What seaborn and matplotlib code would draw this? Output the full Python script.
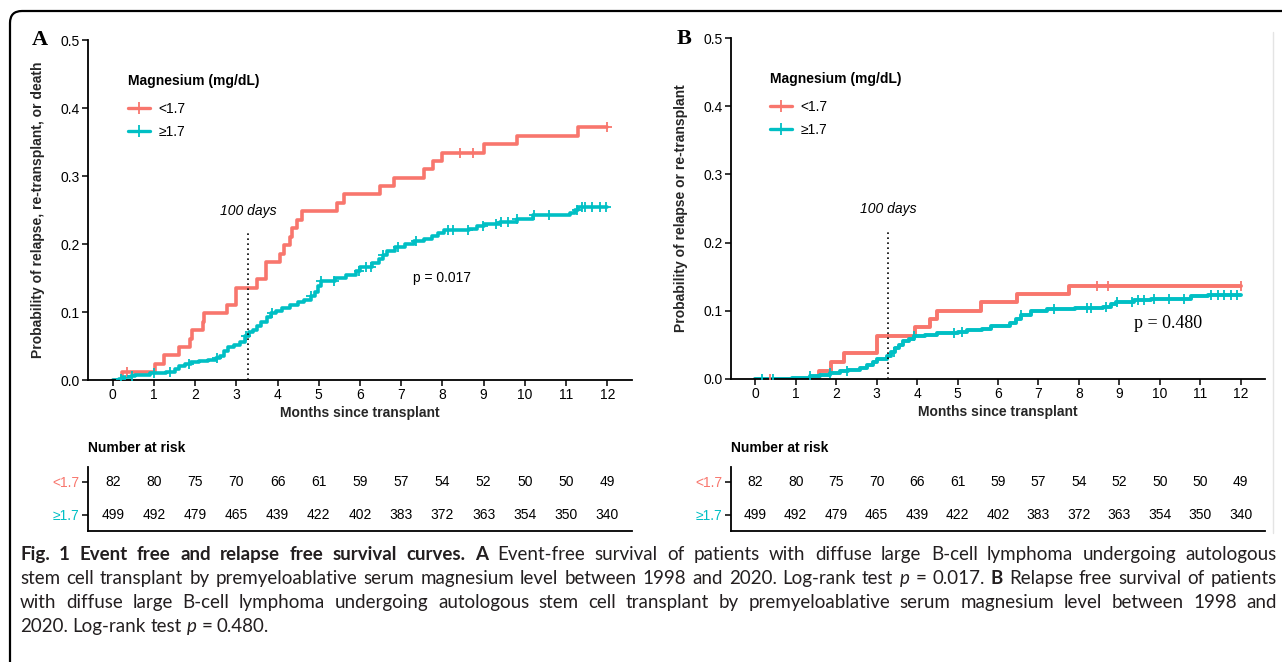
import numpy as np
import pandas as pd
import matplotlib
matplotlib.use("Agg")
import matplotlib.pyplot as plt
import seaborn as sns
from matplotlib.lines import Line2D
from matplotlib.patches import FancyBboxPatch

# ---------------- data ----------------
groups = ["<1.7", "≥1.7"]
months = list(range(13))

# Panel A: relapse, re-transplant or death (cumulative incidence)
a_lo_times = [0.23, 1.02, 1.24, 1.61, 1.88, 1.93, 2.18, 2.22, 2.78, 2.99, 3.5, 3.71, 4.05, 4.15,
              4.30, 4.36, 4.48, 4.6, 5.45, 5.6, 6.49, 6.83, 7.56, 7.76, 7.99, 9.0, 9.82, 11.28]
a_lo_probs = [0.012, 0.024, 0.037, 0.049, 0.061, 0.073, 0.086, 0.099, 0.111, 0.136, 0.149, 0.173,
              0.186, 0.198, 0.211, 0.223, 0.235, 0.248, 0.261, 0.273, 0.285, 0.297, 0.310, 0.322,
              0.334, 0.347, 0.359, 0.372]
a_lo_cens = [0.34, 8.43, 8.73, 12.0]

a_hi_times = [0.15, 0.25, 0.45, 0.55, 0.9, 1.3, 1.5, 1.6, 1.75, 1.9, 2.1, 2.3, 2.5, 2.6, 2.7, 2.8,
              2.95, 3.1, 3.2, 3.3, 3.4, 3.5, 3.6, 3.75, 3.85, 3.95, 4.1, 4.3, 4.5, 4.65, 4.8, 4.9,
              4.97, 5.05, 5.4, 5.65, 5.9, 6.0, 6.3, 6.45, 6.55, 6.65, 6.85, 7.1, 7.3, 7.55, 7.75,
              7.9, 8.05, 8.65, 8.85, 9.0, 9.4, 9.8, 10.2, 11.1, 11.22, 11.3]
a_hi_probs = [0.002, 0.004, 0.006, 0.008, 0.010, 0.012, 0.016, 0.020, 0.024, 0.026, 0.028, 0.030,
              0.033, 0.036, 0.042, 0.048, 0.052, 0.056, 0.064, 0.070, 0.074, 0.080, 0.086, 0.092,
              0.098, 0.102, 0.106, 0.110, 0.114, 0.118, 0.124, 0.130, 0.138, 0.146, 0.150, 0.154,
              0.160, 0.166, 0.172, 0.178, 0.184, 0.190, 0.196, 0.200, 0.204, 0.208, 0.212, 0.216,
              0.220, 0.222, 0.226, 0.230, 0.233, 0.237, 0.242, 0.245, 0.250, 0.255]
a_hi_cens = [0.2, 0.47, 1.0, 1.4, 1.84, 2.52, 3.24, 3.86, 4.8, 5.05, 5.37, 5.98, 6.15, 6.27, 6.55,
             6.93, 7.37, 8.14, 8.26, 8.61, 8.99, 9.3, 9.42, 9.58, 9.82, 10.22, 10.58, 11.27, 11.39,
             11.47, 11.63, 11.83, 11.96]

# Panel B: relapse or re-transplant
b_lo_times = [1.57, 1.87, 2.19, 3.0, 3.96, 4.33, 4.5, 5.58, 6.46, 7.76]
b_lo_probs = [0.012, 0.025, 0.038, 0.063, 0.076, 0.088, 0.100, 0.113, 0.125, 0.137]
b_lo_cens = [0.36, 8.44, 8.72, 12.0]

b_hi_times = [0.9, 1.35, 1.6, 1.85, 2.1, 2.3, 2.6, 2.76, 2.9, 3.0, 3.26, 3.35, 3.45, 3.55, 3.65,
              3.8, 3.92, 4.2, 4.5, 5.0, 5.24, 5.6, 5.82, 6.3, 6.45, 6.56, 6.81, 7.22, 7.9, 8.6,
              8.8, 8.91, 9.36, 9.78, 10.77, 11.18]
b_hi_probs = [0.002, 0.004, 0.006, 0.009, 0.011, 0.013, 0.016, 0.021, 0.025, 0.029, 0.034, 0.039,
              0.045, 0.050, 0.055, 0.059, 0.063, 0.065, 0.067, 0.069, 0.072, 0.074, 0.077, 0.082,
              0.088, 0.094, 0.099, 0.102, 0.104, 0.105, 0.110, 0.113, 0.116, 0.118, 0.121, 0.123]
b_hi_cens = [0.17, 0.45, 1.36, 1.85, 2.26, 3.42, 3.92, 4.91, 5.12, 6.56, 7.39, 8.21, 8.29, 8.66,
             8.95, 9.32, 9.45, 9.61, 9.86, 10.23, 10.6, 11.26, 11.43, 11.59, 11.76, 11.92]

risk_lo = [82, 80, 75, 70, 66, 61, 59, 57, 54, 52, 50, 50, 49]
risk_hi = [499, 492, 479, 465, 439, 422, 402, 383, 372, 363, 354, 350, 340]

p_text_a = "p = 0.017"
p_text_b = "p = 0.480"
ylabel_a = "Probability of relapse, re-transplant, or death"
ylabel_b = "Probability of relapse or re-transplant"
xlabel = "Months since transplant"
legend_title = "Magnesium (mg/dL)"
day100 = 100 / 30.44

# ---------------- style ----------------
RED, TEAL = "#F8766D", "#00BFC4"
palette = {groups[0]: RED, groups[1]: TEAL}
sns.set_theme(style="ticks")
plt.rcParams['font.family'] = ['Liberation Sans', 'DejaVu Sans']
plt.rcParams['axes.edgecolor'] = 'black'
plt.rcParams['xtick.color'] = 'black'
plt.rcParams['ytick.color'] = 'black'
plt.rcParams['text.color'] = 'black'

W, H = 1282, 662
fig = plt.figure(figsize=(W / 100, H / 100), dpi=100)


def add_axes_px(l, t, r, b):
    return fig.add_axes([l / W, 1 - b / H, (r - l) / W, (b - t) / H])


def curve_df(times, probs, grp):
    t = [0.0] + list(times) + [12.0]
    p = [0.0] + list(probs) + [probs[-1]]
    return pd.DataFrame({"time": t, "prob": p, "group": grp})


def step_at(times, probs, x):
    t = np.array([0.0] + list(times))
    p = np.array([0.0] + list(probs))
    idx = np.searchsorted(t, np.asarray(x), side="right") - 1
    return p[idx]


def km_panel(ax, lo, hi, marker, lw, ylabel, ylab_x):
    (lt, lp, lc), (ht, hp, hc) = lo, hi
    df = pd.concat([curve_df(lt, lp, groups[0]), curve_df(ht, hp, groups[1])])
    sns.lineplot(data=df, x="time", y="prob", hue="group", palette=palette,
                 drawstyle="steps-post", linewidth=lw, estimator=None, legend=False, ax=ax)
    for times, probs, cens, col in [(lt, lp, lc, RED), (ht, hp, hc, TEAL)]:
        cdf = pd.DataFrame({"time": cens, "prob": step_at(times, probs, cens)})
        sns.scatterplot(data=cdf, x="time", y="prob", marker=marker, color=col, s=45,
                        linewidth=1.3, ax=ax, zorder=3)
    ax.set_xlim(-0.6, 12.6)
    ax.set_ylim(0, 0.5)
    ax.set_xticks(months)
    ax.set_xticklabels([str(m) for m in months])
    yt = [0.0, 0.1, 0.2, 0.3, 0.4, 0.5]
    ax.set_yticks(yt)
    ax.set_yticklabels([f"{v:.1f}" for v in yt])
    sns.despine(ax=ax)
    for s in ("left", "bottom"):
        ax.spines[s].set_linewidth(1.3)
    ax.tick_params(length=4, width=1.1, labelsize=10, pad=2)
    ax.set_xlabel(xlabel, fontsize=10, fontweight="bold")
    ax.xaxis.set_label_coords(0.5, -0.076)
    ax.set_ylabel(ylabel, fontsize=10, fontweight="bold")
    ax.yaxis.set_label_coords(ylab_x, 0.5)
    # 100 days marker
    ax.plot([day100, day100], [0, 0.22], ls=(0, (1, 2)), color="black", lw=1.2)
    # legend
    handles = [Line2D([0], [0], color=c, lw=2.4, marker=marker, markersize=8, mew=1.3)
               for c in (RED, TEAL)]
    leg = ax.legend(handles, groups, title=legend_title, loc="upper left",
                    bbox_to_anchor=(0.073, 0.901), frameon=False, fontsize=10,
                    title_fontproperties={"weight": "bold", "size": 10},
                    handlelength=1.6, handletextpad=0.6, labelspacing=0.6,
                    borderpad=0, borderaxespad=0, numpoints=1)
    leg._legend_box.align = "left"
    leg._legend_box.sep = 10.5


def risk_panel(ax, title):
    ax.set_xlim(-0.6, 12.6)
    ax.set_ylim(-0.485, 1.45)
    for m, v in zip(months, risk_lo):
        ax.text(m, 1, str(v), ha="center", va="center", fontsize=10)
    for m, v in zip(months, risk_hi):
        ax.text(m, 0, str(v), ha="center", va="center", fontsize=10)
    ax.set_yticks([1, 0])
    ax.set_yticklabels(groups)
    for lab, col in zip(ax.get_yticklabels(), (RED, TEAL)):
        lab.set_color(col)
    ax.set_xticks([])
    sns.despine(ax=ax)
    for s in ("left", "bottom"):
        ax.spines[s].set_linewidth(1.3)
    ax.tick_params(axis="y", length=4, width=1.1, labelsize=10, pad=2)
    ax.set_title(title, loc="left", fontsize=10, fontweight="bold", pad=11)


# ---------------- panel A ----------------
axA = add_axes_px(88, 40, 632, 380)
km_panel(axA, (a_lo_times, a_lo_probs, a_lo_cens), (a_hi_times, a_hi_probs, a_hi_cens),
         "+", 2.6, ylabel_a, -0.079)
axA.text(day100, 0.248, "100 days", ha="center", va="center", fontsize=10, style="italic")
axA.text(8.0, 0.15, p_text_a, ha="center", va="center", fontsize=10)

tA = add_axes_px(88, 467, 632, 531)
risk_panel(tA, "Number at risk")

# ---------------- panel B ----------------
axB = add_axes_px(731, 38, 1265, 379)
km_panel(axB, (b_lo_times, b_lo_probs, b_lo_cens), (b_hi_times, b_hi_probs, b_hi_cens),
         "|", 2.8, ylabel_b, -0.080)
axB.text(day100, 0.25, "100 days", ha="center", va="center", fontsize=10, style="italic")
axB.text(10.2, 0.082, p_text_b, ha="center", va="center", fontsize=13,
         family=["Liberation Serif", "DejaVu Serif"])

tB = add_axes_px(731, 467, 1265, 531)
risk_panel(tB, "Number at risk")

# panel letters
fig.text(40 / W, 1 - 40 / H, "A", ha="center", va="center", fontsize=16, fontweight="bold",
         family=["Liberation Serif", "DejaVu Serif"])
fig.text(684 / W, 1 - 39 / H, "B", ha="center", va="center", fontsize=16, fontweight="bold",
         family=["Liberation Serif", "DejaVu Serif"])

# frame
frame = FancyBboxPatch((0.10, -1.0), 14.0, 6.51 + 1.0, boxstyle="round,pad=0,rounding_size=0.12",
                       transform=fig.dpi_scale_trans, fill=False, edgecolor="black", lw=1.6)
fig.add_artist(frame)
fig.add_artist(Line2D([1273 / W, 1273 / W], [1 - 533 / H, 1 - 32 / H], color="#e4e4e4", lw=1,
                      transform=fig.transFigure))

# ---------------- caption ----------------
def words(s, st="n"):
    return [(w, st) for w in s.split()]

cap_lines = [
    words("Fig. 1 Event free and relapse free survival curves. A", "b")
    + words("Event-free survival of patients with diffuse large B-cell lymphoma undergoing autologous"),
    words("stem cell transplant by premyeloablative serum magnesium level between 1998 and 2020. Log-rank test")
    + words("p", "i") + words("= 0.017.") + words("B", "b")
    + words("Relapse free survival of patients"),
    words("with diffuse large B-cell lymphoma undergoing autologous stem cell transplant by premyeloablative serum magnesium level between 1998 and"),
    words("2020. Log-rank test") + words("p", "i") + words("= 0.480."),
]
cap_baselines = [560, 584, 608, 632]
cap_x0, cap_x1 = 20, 1277
cap_family = ["Lato", "DejaVu Sans"]
CAP_COL = "#231f20"

renderer = fig.canvas.get_renderer()


def make_word(w, st, size):
    kw = dict(fontsize=size, family=cap_family, color=CAP_COL, va="baseline", ha="left")
    if st == "b":
        kw["fontweight"] = "bold"
    if st == "i":
        kw["style"] = "italic"
    return fig.text(0, 0, w, **kw)


def measure(size):
    res = []
    for line in cap_lines:
        objs = [make_word(w, st, size) for w, st in line]
        ws = [o.get_window_extent(renderer).width for o in objs]
        res.append((objs, ws))
    return res

probe = make_word("a a", "n", 10)
probe2 = make_word("aa", "n", 10)
space10 = probe.get_window_extent(renderer).width - probe2.get_window_extent(renderer).width
probe.remove(); probe2.remove()

m10 = measure(10)
target = cap_x1 - cap_x0
sizes = []
for (objs, ws), line in zip(m10[:3], cap_lines[:3]):
    nat = sum(ws) + space10 * (len(ws) - 1)
    sizes.append(10 * target / nat)
    for o in objs:
        o.remove()
for o in m10[3][0]:
    o.remove()
cap_size = min(min(sizes) * 0.995, 13.5)
space = space10 * cap_size / 10

for i, ((objs, ws), yb) in enumerate(zip(measure(cap_size), cap_baselines)):
    if i < 3:
        gap = (target - sum(ws)) / (len(ws) - 1)
    else:
        gap = space
    x = cap_x0
    for o, w in zip(objs, ws):
        o.set_position((x / W, 1 - yb / H))
        x += w + gap

fig.savefig("out.png", dpi=100)
